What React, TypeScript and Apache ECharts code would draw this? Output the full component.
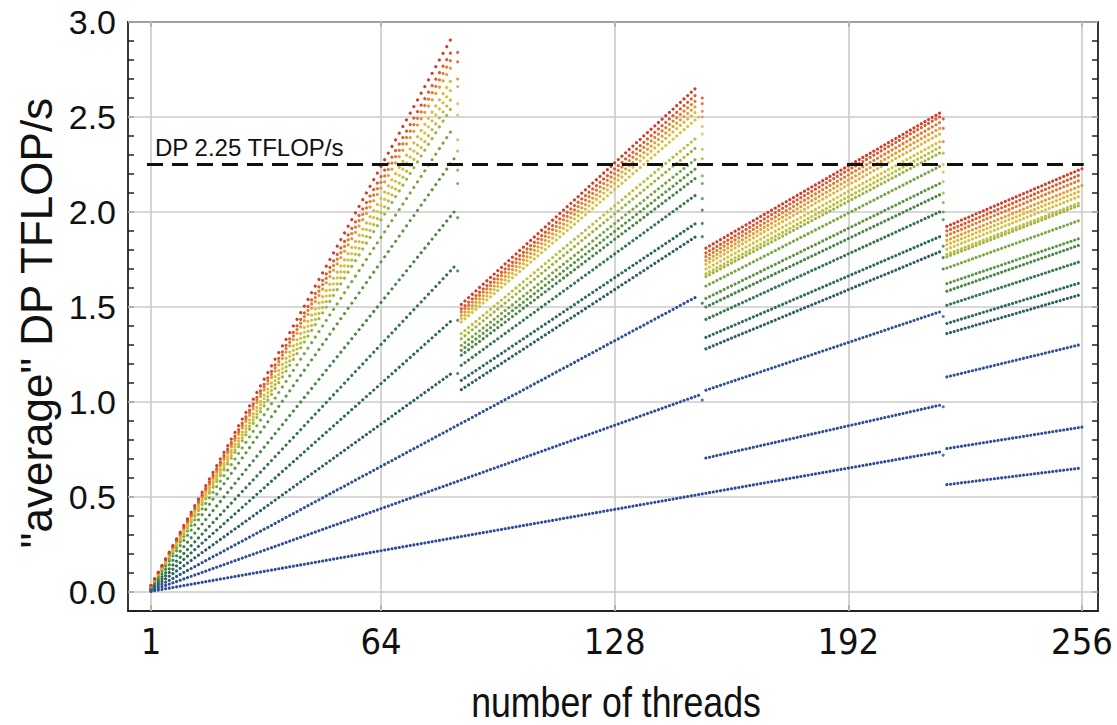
import React, { useEffect, useRef } from 'react';
import * as echarts from 'echarts';

// ---------- data ----------
const xTicks = [1, 64, 128, 192, 256];
const yTicks = [0, 0.5, 1, 1.5, 2, 2.5, 3];
const peakValue = 2.25;
const peakSpan = [-0.1, 256.5];
const peakLabel = 'DP 2.25 TFLOP/s';
const xTitle = 'number of threads';
const yTitle = '"average" DP TFLOP/s';

// each series: list of segments, each segment = [[threads, TFLOP/s], ...]
const r01 = [[[1, 0.035], [84, 2.94]], [[86, 1.514], [151, 2.666]], [[153, 1.81], [217, 2.52]], [[219, 1.924], [256, 2.228]]];
const r02 = [[[1, 0.034], [84, 2.87]], [[86, 1.49], [151, 2.63]], [[153, 1.785], [217, 2.5]], [[219, 1.9], [256, 2.2]]];
const r03 = [[[1, 0.034], [84, 2.83]], [[86, 1.474], [151, 2.6]], [[153, 1.765], [217, 2.47]], [[219, 1.877], [256, 2.172]]];
const r04 = [[[1, 0.033], [84, 2.79]], [[86, 1.456], [151, 2.57]], [[153, 1.745], [217, 2.44]], [[219, 1.851], [256, 2.14]]];
const r05 = [[[1, 0.032], [84, 2.72]], [[86, 1.439], [151, 2.54]], [[153, 1.725], [217, 2.41]], [[219, 1.828], [256, 2.114]]];
const r06 = [[[1, 0.032], [84, 2.67]], [[86, 1.421], [151, 2.5]], [[153, 1.7], [217, 2.37]], [[219, 1.804], [256, 2.088]]];
const r07 = [[[1, 0.031], [84, 2.62]], [[86, 1.36], [151, 2.4]], [[153, 1.675], [217, 2.34]], [[219, 1.777], [256, 2.053]]];
const r08 = [[[1, 0.031], [84, 2.57]], [[86, 1.333], [151, 2.35]], [[153, 1.66], [217, 2.31]], [[219, 1.764], [256, 2.04]]];
const r09 = [[[1, 0.029], [84, 2.45]], [[86, 1.298], [151, 2.29]], [[153, 1.61], [217, 2.24]], [[219, 1.705], [256, 1.96]]];
const r10 = [[[1, 0.027], [84, 2.28]], [[86, 1.272], [151, 2.24]], [[153, 1.545], [217, 2.15]], [[219, 1.623], [256, 1.865]]];
const r11 = [[[1, 0.024], [84, 2.0]], [[86, 1.246], [151, 2.19]], [[153, 1.5], [217, 2.09]], [[219, 1.583], [256, 1.83]]];
const r12 = [[[1, 0.02], [84, 1.71]], [[86, 1.193], [151, 2.1]], [[153, 1.435], [217, 2.0]], [[219, 1.509], [256, 1.742]]];
const r13 = [[[1, 0.017], [84, 1.44]], [[86, 1.114], [151, 1.95]], [[153, 1.34], [217, 1.87]], [[219, 1.413], [256, 1.63]]];
const r14 = [[[1, 0.014], [84, 1.16]], [[86, 1.065], [151, 1.88]], [[153, 1.28], [217, 1.79]], [[219, 1.36], [256, 1.567]]];
const r15 = [[[1, 0.01], [151, 1.56]], [[153, 1.062], [217, 1.474]], [[219, 1.132], [256, 1.304]]];
const r16 = [[[1, 0.007], [151, 1.035]], [[153, 0.705], [217, 0.983]], [[219, 0.755], [256, 0.868]]];
const r17 = [[[1, 0.0034], [217, 0.737]], [[219, 0.565], [256, 0.653]]];

const allSeries = [r01, r02, r03, r04, r05, r06, r07, r08, r09, r10, r11, r12, r13, r14, r15, r16, r17];

// values of the single points at the switch-over thread counts (null = none)
const breakThreads = [85, 152, 218];
const dropAt85 = [2.84, 2.79, 2.7, 2.66, 2.57, 2.51, 2.38, 2.32, 2.22, 2.15, 1.97, 1.69, 1.43, 1.15, null, null, null];
const dropAt152 = [2.6, 2.57, 2.53, 2.5, 2.45, 2.41, 2.33, 2.28, 2.19, 2.15, 2.07, 2.01, 1.94, 1.87, 1.52, 1.01, null];
const dropAt218 = [2.49, 2.44, 2.37, 2.31, 2.25, 2.21, 2.16, 2.1, 2.05, 2.0, 1.96, 1.82, 1.76, 1.7, 1.45, 0.975, 0.72];
const drops = [dropAt85, dropAt152, dropAt218];

// ---------- style ----------
const rankColors = [
  '#d33a28', '#da5a2b', '#e07a2f', '#e49a35', '#e2b53b', '#d6c23f', '#bcbf40', '#9fb441',
  '#7ca641', '#5d9643', '#478646', '#37764c', '#2f6a58', '#2d5e66', '#2f5290', '#2e4c98', '#2f4a9a',
];

const W = 1117;
const H = 725;
const GRID = { left: 128, right: 19, top: 22, bottom: 114 };
const X_MIN = -5.3;
const X_MAX = 260.4;
const Y_MIN = -0.1;
const Y_MAX = 3.0;
const PX_X = (W - GRID.left - GRID.right) / (X_MAX - X_MIN);
const PX_Y = (H - GRID.top - GRID.bottom) / (Y_MAX - Y_MIN);
const DOT = 3.1;

const NARROW = '"Liberation Sans Narrow", "Arial Narrow", "DejaVu Sans Condensed", "Liberation Sans", sans-serif';
const REGULAR = '"Liberation Sans", Arial, sans-serif';
const FRAME = { color: '#222', width: 1.8 };

function dotPeriod(seg: number[][]) {
  let len = 0;
  for (let i = 1; i < seg.length; i++) {
    len += Math.hypot((seg[i][0] - seg[i - 1][0]) * PX_X, (seg[i][1] - seg[i - 1][1]) * PX_Y);
  }
  return len / (seg[seg.length - 1][0] - seg[0][0]);
}

export default function App() {
  const ref = useRef<HTMLDivElement>(null);
  useEffect(() => {
    if (!ref.current) return;
    const chart = echarts.init(ref.current, undefined, { renderer: 'svg' });

    const series: any[] = [];
    series.push({
      type: 'line',
      data: [],
      silent: true,
      z: 1,
      markLine: {
        silent: true,
        symbol: 'none',
        z: 1,
        animation: false,
        label: { show: false },
        lineStyle: { color: '#cbcbcb', width: 1.6, type: 'solid' },
        data: [...xTicks.map((x) => ({ xAxis: x })), ...yTicks.map((y) => ({ yAxis: y }))],
      },
    });

    for (let r = allSeries.length - 1; r >= 0; r--) {
      allSeries[r].forEach((seg) => {
        const p = dotPeriod(seg);
        series.push({
          type: 'line',
          data: seg,
          symbol: 'none',
          silent: true,
          z: 3,
          lineStyle: { color: rankColors[r], width: DOT, type: [0.01, p - 0.01], cap: 'round' },
        });
      });
      const pts: number[][] = [];
      drops.forEach((col, i) => {
        const v = col[r];
        if (v !== null && v !== undefined) pts.push([breakThreads[i], v]);
      });
      series.push({
        type: 'scatter',
        data: pts,
        symbol: 'circle',
        symbolSize: DOT,
        silent: true,
        z: 3,
        itemStyle: { color: rankColors[r] },
      });
    }

    series.push({
      type: 'line',
      data: [],
      silent: true,
      z: 10,
      markLine: {
        silent: true,
        symbol: 'none',
        z: 10,
        animation: false,
        lineStyle: { color: '#111', width: 2.8, type: [16, 9] },
        label: {
          show: true,
          position: 'insideStartTop',
          formatter: peakLabel,
          fontSize: 24,
          fontFamily: REGULAR,
          color: '#111',
          distance: [8, 5],
        },
        data: [[{ coord: [peakSpan[0], peakValue] }, { coord: [peakSpan[1], peakValue] }]],
      },
    });

    const yAxisBase = {
      type: 'value',
      min: Y_MIN,
      max: Y_MAX,
      interval: 0.1,
      axisLine: { show: true, onZero: false, lineStyle: FRAME },
      splitLine: { show: false },
      axisTick: { show: true, inside: true, length: 6, lineStyle: { color: '#222', width: 1.5 } },
    };
    const xAxisBase = {
      type: 'value',
      min: X_MIN,
      max: X_MAX,
      axisLine: { show: true, onZero: false, lineStyle: FRAME },
      splitLine: { show: false },
    };

    chart.setOption({
      animation: false,
      backgroundColor: '#ffffff',
      grid: {
        left: GRID.left,
        right: GRID.right,
        top: GRID.top,
        bottom: GRID.bottom,
        show: false,
        containLabel: false,
      },
      xAxis: [
        {
          ...xAxisBase,
          position: 'bottom',
          axisTick: { show: true, inside: true, length: 6, customValues: xTicks, lineStyle: { color: '#222', width: 1.5 } },
          axisLabel: { customValues: xTicks, fontSize: 36, fontFamily: NARROW, color: '#111', margin: 12 },
        },
        {
          ...xAxisBase,
          position: 'top',
          axisTick: { show: true, inside: true, length: 5, customValues: xTicks, lineStyle: { color: '#222', width: 1.5 } },
          axisLabel: { show: false },
        },
      ],
      yAxis: [
        {
          ...yAxisBase,
          position: 'left',
          axisLabel: {
            fontSize: 34,
            fontFamily: REGULAR,
            color: '#111',
            margin: 12,
            formatter: (v: number) => {
              const r = Math.round(v * 2);
              return Math.abs(v * 2 - r) < 1e-6 && v > -1e-6 ? (r / 2).toFixed(1) : '';
            },
          },
        },
        { ...yAxisBase, position: 'right', axisLabel: { show: false } },
      ],
      graphic: [
        {
          type: 'text',
          x: 36,
          y: 323,
          rotation: Math.PI / 2,
          style: { text: yTitle, font: '44px "Liberation Sans"', fill: '#111', textAlign: 'center', textVerticalAlign: 'middle' },
        },
        {
          type: 'text',
          x: 616,
          y: 702,
          scaleX: 0.85,
          style: { text: xTitle, font: '42px "Liberation Sans"', fill: '#111', textAlign: 'center', textVerticalAlign: 'middle' },
        },
      ],
      series,
    });
    return () => chart.dispose();
  }, []);
  return <div ref={ref} style={{ position: 'fixed', left: 0, top: 0, width: W, height: H, background: '#fff' }} />;
}
